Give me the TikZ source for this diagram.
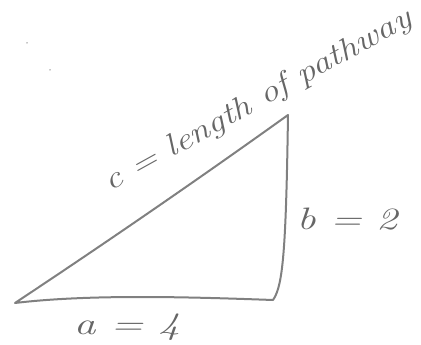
\documentclass[tikz,border=0pt]{standalone}
\begin{document}
\begin{tikzpicture}[x=1pt,y=-1pt,
  pencil/.style={draw=black!50,line width=2pt,line cap=round,line join=round},
  hand/.style={text=black!60,font=\fontsize{31}{36}\selectfont\itshape,inner sep=0pt},
  speck/.style={fill=black!45,circle,inner sep=0pt,minimum size=1.5pt}]
\useasboundingbox (0,0) rectangle (421,345);
\coordinate (A) at (15,303);
\coordinate (B) at (273,300);
\coordinate (C) at (288,115);
\draw[pencil] (A) .. controls (90,294) and (190,297) .. (B)
  .. controls (283,286) and (286,250) .. (C)
  .. controls (200,178) and (110,240) .. cycle;
\node[hand,rotate=29,anchor=base west] (clab) at (110,192) {\scalebox{1.2}[1]{c = length of pathway}};
\node[hand] (blab) at (347,219) {\scalebox{1.35}[1]{b = 2}};
\node[hand] (alab) at (127,327) {\scalebox{1.4}[1]{a = 4}};
\node[speck] (s1) at (27,43) {};
\node[speck] (s2) at (50,70) {};
\end{tikzpicture}
\end{document}
